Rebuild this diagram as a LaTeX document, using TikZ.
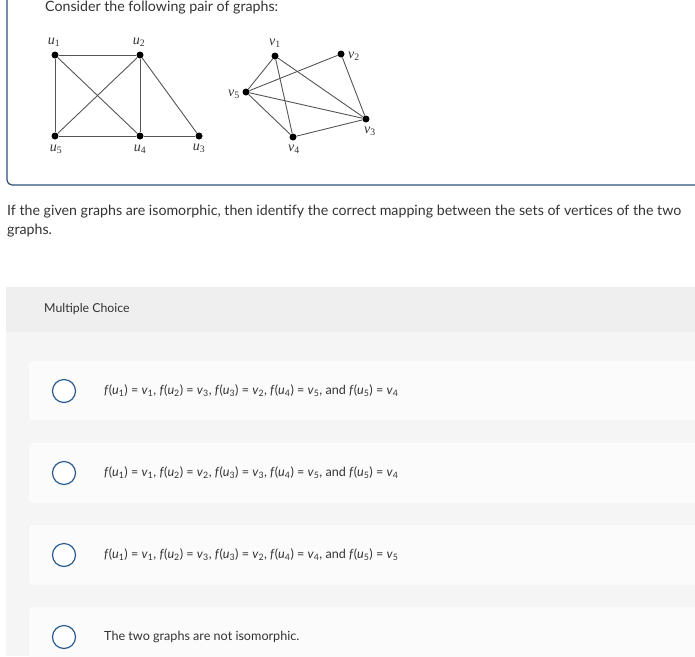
\documentclass[tikz,border=0pt]{standalone}
\usepackage{fontspec}
\setmainfont{Lato}
\newfontfamily\labelfont{Liberation Serif}
\usepackage{tikz}
\usetikzlibrary{arrows}
\definecolor{boxline}{HTML}{2E4F78}
\definecolor{mcgray}{HTML}{EFEFEF}
\definecolor{mcback}{HTML}{F5F5F5}
\definecolor{cardfill}{HTML}{FBFBFB}
\definecolor{radioblue}{HTML}{2A5D8F}
\definecolor{textgray}{HTML}{333333}
\definecolor{edgegray}{HTML}{555555}
\tikzstyle{vertex} = [circle, fill=black, inner sep=0pt, minimum size=7pt]
\tikzstyle{vlabel} = [font=\fontsize{14}{16}\labelfont, text=textgray, inner sep=1pt]
\tikzstyle{edge} = [draw=edgegray, line width=0.9pt]
\tikzstyle{plain} = [anchor=west, inner sep=0pt, text=textgray]
\tikzstyle{card} = [fill=cardfill, rounded corners=3pt]
\tikzstyle{radio} = [circle, draw=radioblue, line width=1.2pt, fill=white, minimum size=23pt, inner sep=0pt]
\newcommand{\mapu}[2]{\textit{f}(\textit{u}\textsubscript{#1}) = \textit{v}\textsubscript{#2}}
\newcommand{\vname}[2]{\textit{#1}\textsubscript{#2}}

\begin{document}
\begin{tikzpicture}[x=1pt, y=-1pt]

\useasboundingbox (0,0) rectangle (695,656);

% question box
\draw [boxline, line width=1.2pt, rounded corners=5pt] (7,-10) -- (7,185) -- (700,185);
\node (title) [plain, font=\fontsize{14.2}{17}\selectfont] at (45,8) {Consider the following pair of graphs:};

% first graph
\node (u1) [vertex] at (55,55) {};
\node (u2) [vertex] at (140,55) {};
\node (u5) [vertex] at (55,136) {};
\node (u4) [vertex] at (140,136) {};
\node (u3) [vertex] at (199,136) {};
\node (lu1) [vlabel] at (54,42) {\vname{u}{1}};
\node (lu2) [vlabel] at (139,42) {\vname{u}{2}};
\node (lu5) [vlabel] at (56,149) {\vname{u}{5}};
\node (lu4) [vlabel] at (140,149) {\vname{u}{4}};
\node (lu3) [vlabel] at (199,148) {\vname{u}{3}};

\draw [edge] (u1) -- (u2);
\draw [edge] (u1) -- (u5);
\draw [edge] (u1) -- (u4);
\draw [edge] (u2) -- (u5);
\draw [edge] (u2) -- (u4);
\draw [edge] (u2) -- (u3);
\draw [edge] (u5) -- (u4);
\draw [edge] (u4) -- (u3);

% second graph
\node (v1) [vertex] at (275,56) {};
\node (v2) [vertex] at (341,54) {};
\node (v5) [vertex] at (246,92) {};
\node (v3) [vertex] at (366,119) {};
\node (v4) [vertex] at (293,137) {};
\node (lv1) [vlabel] at (275,43) {\vname{v}{1}};
\node (lv2) [vlabel] at (354,56) {\vname{v}{2}};
\node (lv5) [vlabel] at (234,94) {\vname{v}{5}};
\node (lv3) [vlabel] at (370,131) {\vname{v}{3}};
\node (lv4) [vlabel] at (294,149) {\vname{v}{4}};

\draw [edge] (v1) -- (v5);
\draw [edge] (v1) -- (v4);
\draw [edge] (v1) -- (v3);
\draw [edge] (v5) -- (v2);
\draw [edge] (v5) -- (v3);
\draw [edge] (v5) -- (v4);
\draw [edge] (v2) -- (v3);
\draw [edge] (v4) -- (v3);

\node (q1) [plain, font=\fontsize{14.2}{17}\selectfont] at (7,212) {If the given graphs are isomorphic, then identify the correct mapping between the sets of vertices of the two};
\node (q2) [plain, font=\fontsize{14.2}{17}\selectfont] at (7,231) {graphs.};

% multiple choice panel
\fill [mcback] (6,287) rectangle (695,656);
\fill [mcgray] (6,287) rectangle (695,332);
\node (mc) [plain, font=\fontsize{12.3}{14}\selectfont] at (44,309) {Multiple Choice};

\fill [card] (29,361) rectangle (700,420);
\fill [card] (29,443) rectangle (700,503);
\fill [card] (29,525) rectangle (700,585);
\fill [card] (29,607) rectangle (700,670);

\node (r1) [radio] at (64,391) {};
\node (r2) [radio] at (64,473) {};
\node (r3) [radio] at (64,555) {};
\node (r4) [radio] at (64,637) {};

\node (a1) [plain, font=\fontsize{12.6}{15}\selectfont] at (104,391) {\mapu{1}{1}, \mapu{2}{3}, \mapu{3}{2}, \mapu{4}{5}, and \mapu{5}{4}};
\node (a2) [plain, font=\fontsize{12.6}{15}\selectfont] at (104,473) {\mapu{1}{1}, \mapu{2}{2}, \mapu{3}{3}, \mapu{4}{5}, and \mapu{5}{4}};
\node (a3) [plain, font=\fontsize{12.6}{15}\selectfont] at (104,555) {\mapu{1}{1}, \mapu{2}{3}, \mapu{3}{2}, \mapu{4}{4}, and \mapu{5}{5}};
\node (a4) [plain, font=\fontsize{12.6}{15}\selectfont] at (104,637) {The two graphs are not isomorphic.};

\end{tikzpicture}
\end{document}
